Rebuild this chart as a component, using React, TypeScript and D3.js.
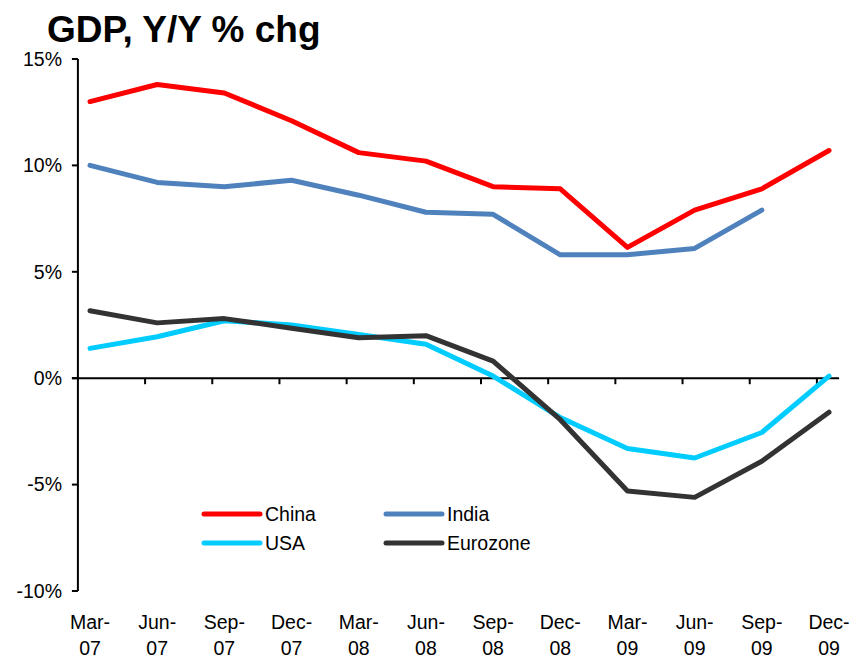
import * as d3 from 'd3';

const quarters = [
    'Mar-07', 'Jun-07', 'Sep-07', 'Dec-07',
    'Mar-08', 'Jun-08', 'Sep-08', 'Dec-08',
    'Mar-09', 'Jun-09', 'Sep-09', 'Dec-09',
];

const china = [13.0, 13.8, 13.4, 12.1, 10.6, 10.2, 9.0, 8.9, 6.15, 7.9, 8.9, 10.7];
const india = [10.0, 9.2, 9.0, 9.3, 8.6, 7.8, 7.7, 5.8, 5.8, 6.1, 7.9, null];
const usa = [1.4, 1.95, 2.7, 2.5, 2.05, 1.6, 0.1, -1.85, -3.3, -3.75, -2.55, 0.1];
const eurozone = [3.17, 2.6, 2.8, 2.35, 1.9, 2.0, 0.8, -1.95, -5.3, -5.6, -3.9, -1.6];

const yTicks = [15, 10, 5, 0, -5, -10];

type Series = { name: string; values: (number | null)[]; color: string };

const series: Series[] = [
    { name: 'China', values: china, color: '#ff0000' },
    { name: 'India', values: india, color: '#4f81bd' },
    { name: 'USA', values: usa, color: '#00ccff' },
    { name: 'Eurozone', values: eurozone, color: '#333333' },
];

const width = 851;
const height = 660;
const font = '"Liberation Sans", Arial, sans-serif';

export default function App() {
    // points sit a little right of each major tick, like the original date axis
    const x = d3.scaleLinear().domain([0, quarters.length - 1]).range([90, 829]);
    const y = d3.scaleLinear().domain([-10, 15]).range([591, 59]);
    const axisLeft = x(-0.18);
    const axisRight = x(11.15);
    const tickOffset = x(0) - axisLeft;

    const line = d3
        .line<number | null>()
        .defined((d) => d != null)
        .x((_, i) => x(i))
        .y((d) => y(d as number));

    // legend order in the picture: China, India on row one; USA, Eurozone on row two
    const legendPos = [
        { col: 0, row: 0 },
        { col: 1, row: 0 },
        { col: 0, row: 1 },
        { col: 1, row: 1 },
    ];

    return (
        <svg
            width={width}
            height={height}
            style={{ position: 'absolute', left: 0, top: 0, background: '#fff' }}
            fontFamily={font}
        >
            <text x={47} y={42} fontSize={37} fontWeight="bold" fill="#000">
                GDP, Y/Y % chg
            </text>

            {/* y axis */}
            <line x1={axisLeft} x2={axisLeft} y1={y(15)} y2={y(-10)} stroke="#000" strokeWidth={2} />
            {yTicks.map((t) => (
                <g key={t}>
                    <line x1={axisLeft - 6} x2={axisLeft} y1={y(t)} y2={y(t)} stroke="#000" strokeWidth={2} />
                    <text
                        x={62}
                        y={y(t)}
                        dy="0.35em"
                        textAnchor="end"
                        fontSize={19.5}
                        fill="#000"
                    >
                        {`${t}%`}
                    </text>
                </g>
            ))}

            {/* x axis at zero */}
            <line x1={axisLeft - 6} x2={axisRight} y1={y(0)} y2={y(0)} stroke="#000" strokeWidth={2} />
            {quarters.slice(1).map((q, i) => (
                <line
                    key={q}
                    x1={x(i + 1) - tickOffset}
                    x2={x(i + 1) - tickOffset}
                    y1={y(0)}
                    y2={y(0) + 6}
                    stroke="#000"
                    strokeWidth={2}
                />
            ))}

            {quarters.map((q, i) => {
                const [mon, yr] = q.split('-');
                return (
                    <text key={q} x={x(i)} textAnchor="middle" fontSize={19.5} fill="#000">
                        <tspan x={x(i)} y={629}>{`${mon}-`}</tspan>
                        <tspan x={x(i)} y={655}>{yr}</tspan>
                    </text>
                );
            })}

            {series.map((s) => (
                <path
                    key={s.name}
                    d={line(s.values) ?? ''}
                    fill="none"
                    stroke={s.color}
                    strokeWidth={5}
                    strokeLinejoin="round"
                    strokeLinecap="round"
                />
            ))}

            {/* legend */}
            {series.map((s, i) => {
                const p = legendPos[i];
                const lx = 204 + p.col * 182;
                const ly = 514 + p.row * 29;
                return (
                    <g key={s.name}>
                        <line
                            x1={lx}
                            x2={lx + 56}
                            y1={ly}
                            y2={ly}
                            stroke={s.color}
                            strokeWidth={5}
                            strokeLinecap="round"
                        />
                        <text x={lx + 61} y={ly} dy="0.36em" fontSize={19.5} fill="#000">
                            {s.name}
                        </text>
                    </g>
                );
            })}
        </svg>
    );
}
